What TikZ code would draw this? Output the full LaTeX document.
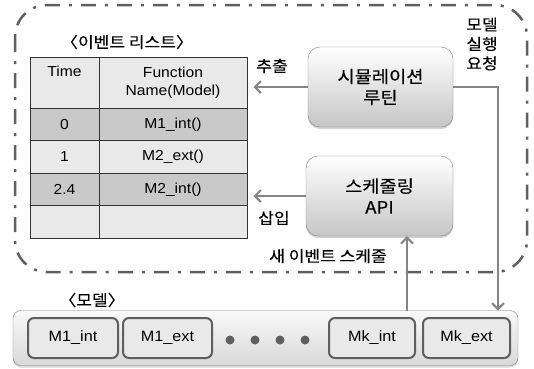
\documentclass[tikz,border=0pt]{standalone}
\usepackage{fontspec}
\setmainfont[FakeStretch=1.08]{Liberation Sans}
\newfontfamily\kr[FakeStretch=1.1,FakeBold=0.2]{Noto Sans CJK KR}
\usetikzlibrary{arrows.meta,shadows}
\definecolor{lightrow}{HTML}{E9E9E9}
\definecolor{darkrow}{HTML}{C9C9C9}
\definecolor{tabline}{HTML}{333333}
\definecolor{flowgray}{HTML}{858585}
\definecolor{borderline}{HTML}{5F5F5F}
\begin{document}
\begin{tikzpicture}[x=1pt,y=-1pt,
    cell/.style={draw=tabline, line width=1pt, inner sep=0pt, align=center, font=\fontsize{14.5}{18}\selectfont},
    routine/.style={draw=gray, rounded corners=12pt, top color=white, bottom color=gray!45, minimum width=145pt, minimum height=80pt, align=center, font=\kr\fontsize{17}{21}\selectfont, drop shadow={shadow xshift=0pt, shadow yshift=-2pt, opacity=.35}},
    modbox/.style={draw=borderline, line width=2pt, fill=lightrow, rounded corners=6pt, minimum height=40pt, font=\fontsize{15}{18}\selectfont},
    flow/.style={draw=flowgray, line width=2pt, -{Straight Barb[length=6pt,width=12pt]}},
    label/.style={font=\kr\fontsize{15.5}{19.5}\selectfont, align=center}]
  \useasboundingbox (0,0) rectangle (534,368);

  % simulation system boundary
  \draw[borderline, line width=2.5pt, dash pattern=on 15pt off 9pt on 3pt off 9pt, rounded corners=32pt] (15,5) rectangle (527,272);

  % event list
  \node[label] (evtitle) at (127,42) {〈이벤트 리스트〉};
  \node[cell, fill=lightrow, minimum width=69pt, minimum height=51pt] (thead) at (64.5,82.5) {Time\\[4pt]~};
  \node[cell, fill=lightrow, minimum width=148pt, minimum height=51pt] (fhead) at (173,82.5) {Function\\Name(Model)};
  \node[cell, fill=darkrow, minimum width=69pt, minimum height=32.5pt] (t1) at (64.5,124.25) {0};
  \node[cell, fill=darkrow, minimum width=148pt, minimum height=32.5pt] (f1) at (173,124.25) {M1\_int()};
  \node[cell, fill=lightrow, minimum width=69pt, minimum height=32.5pt] (t2) at (64.5,156.75) {1};
  \node[cell, fill=lightrow, minimum width=148pt, minimum height=32.5pt] (f2) at (173,156.75) {M2\_ext()};
  \node[cell, fill=darkrow, minimum width=69pt, minimum height=32.5pt] (t3) at (64.5,189.25) {2.4};
  \node[cell, fill=darkrow, minimum width=148pt, minimum height=32.5pt] (f3) at (173,189.25) {M2\_int()};
  \node[cell, fill=lightrow, minimum width=69pt, minimum height=32.5pt] (t4) at (64.5,221.75) {};
  \node[cell, fill=lightrow, minimum width=148pt, minimum height=32.5pt] (f4) at (173,221.75) {};

  % routines
  \node[routine] (sim) at (380.5,87) {시뮬레이션\\루틴};
  \node[routine, minimum width=147pt] (sched) at (379.5,196) {스케줄링\\API};

  % models
  \node[label] (modtitle) at (92,300) {〈모델〉};
  \node[draw=gray, rounded corners=8pt, top color=white!95!gray, bottom color=gray!30, minimum width=505pt, minimum height=55pt, drop shadow={shadow xshift=0pt, shadow yshift=-2pt, opacity=.3}] (models) at (265.5,338) {};
  \node[modbox, minimum width=90pt] (m1int) at (73,338) {M1\_int};
  \node[modbox, minimum width=89pt] (m1ext) at (167.5,338) {M1\_ext};
  \node[modbox, minimum width=86pt] (mkint) at (372,338) {Mk\_int};
  \node[modbox, minimum width=87pt] (mkext) at (466.5,338) {Mk\_ext};
  \foreach \x in {230,255,280,305}
    \fill[borderline] (\x,340) circle (4.5pt);

  % connectors
  \coordinate (newevt) at (407,310.5);
  \coordinate (runreq) at (498,310.5);
  \draw[flow, shorten >=6pt] (sim.west) -- (fhead.east |- sim.west);
  \draw[flow, shorten >=6pt] (sched.west) -- (f3.east |- sched.west);
  \draw[flow] (newevt) -- (newevt |- sched.south);
  \draw[flow] (sim.east) -| (runreq);

  \node[label] (extract) at (272,66) {추출};
  \node[label] (insert) at (274,218) {삽입};
  \node[label] (request) at (482,44) {모델\\실행\\요청};
  \node[label] (schedule) at (328,256) {새 이벤트 스케줄};
\end{tikzpicture}
\end{document}
